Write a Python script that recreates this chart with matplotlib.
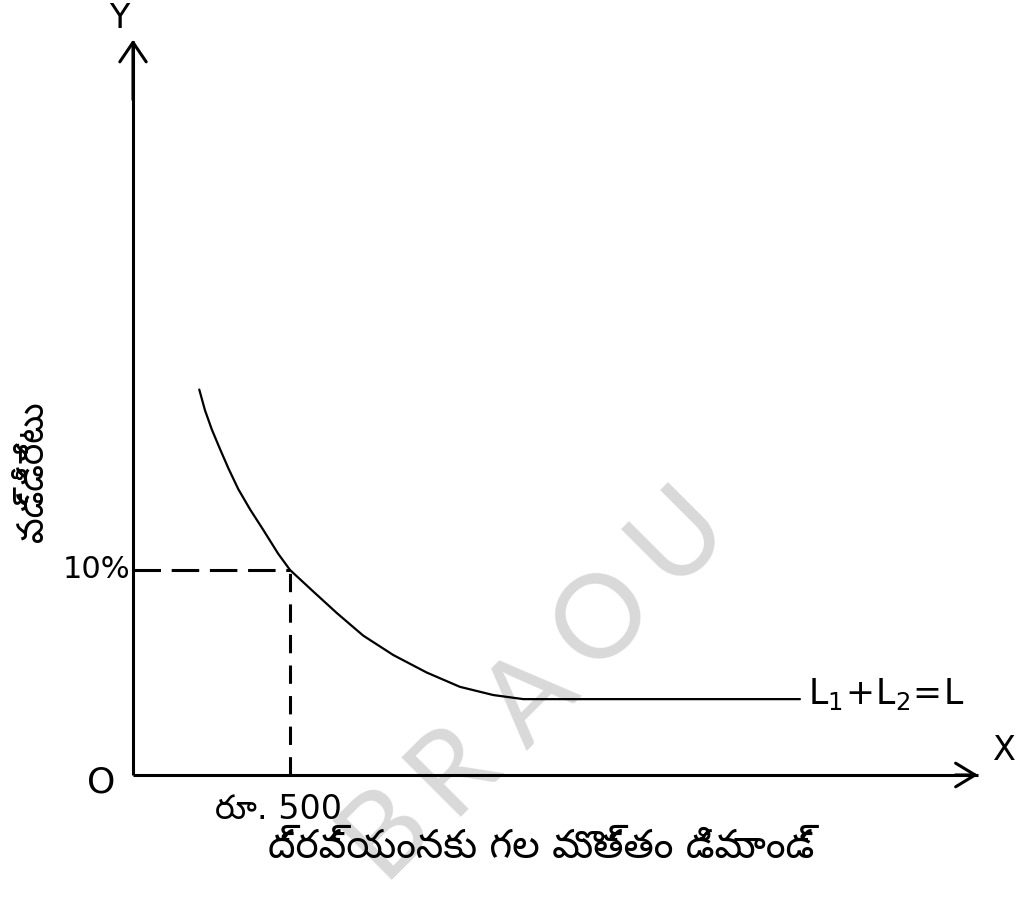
import matplotlib
matplotlib.use("Agg")
import matplotlib.pyplot as plt
from matplotlib import font_manager

# Liquidity preference curve: total demand for money (Rs) vs interest rate (%)
demand_rs = [211, 229, 251, 277, 304, 335, 373, 415, 462, 500, 574, 649, 733,
             829, 935, 1041, 1147, 1243, 1500, 1800, 2124]
interest_pct = [18.8, 17.8, 16.85, 15.9, 14.95, 13.95, 12.95, 11.95, 10.8,
                10.0, 8.95, 7.9, 6.8, 5.85, 5.0, 4.3, 3.9, 3.7, 3.7, 3.7, 3.7]

ref_demand = 500      # Rs. 500
ref_rate = 10.0       # 10%

x_label = "ద్రవ్యంనకు గల మొత్తం డిమాండ్"
y_label = "వడ్డీరేటు"
ref_demand_label = "రూ. 500"
ref_rate_label = "10%"
curve_label = r"$\mathregular{L_1\!+\!L_2\!=\!L}$"
watermark = ["B", "R", "A", "O", "U"]

installed = {f.name for f in font_manager.fontManager.ttflist}
telugu = next((n for n in ["Noto Sans Telugu", "Mandali", "Hind Guntur",
                           "Ramaraja", "Gidugu"] if n in installed), None)
tfam = ["DejaVu Sans", telugu] if telugu else ["DejaVu Sans"]

fig = plt.figure(figsize=(10.2, 8.98), dpi=100)
ax = fig.add_axes([0, 0, 1, 1])
ax.set_xlim(-423.6, 2824.8)
ax.set_ylim(-6.0, 37.8)
ax.axis("off")

# faint diagonal watermark behind everything
wm_pos = [(385, 830), (453, 768), (532, 700), (603, 618), (678, 535)]
for ch, (px, py) in zip(watermark, wm_pos):
    ax.text(px / 1020, 1 - py / 898, ch, transform=ax.transAxes,
            fontsize=84, color="#d9d9d9", rotation=45, ha="center",
            va="center", family=["Lato", "DejaVu Sans"], zorder=0)

# axes drawn as arrows from the origin
x_end, y_end = 2690, 35.8
ax.plot([0, x_end], [0, 0], color="black", lw=2.2, solid_capstyle="butt",
        zorder=3)
ax.plot([0, 0], [0, y_end], color="black", lw=2.2, solid_capstyle="butt",
        zorder=3)
ax.annotate("", xy=(x_end + 10, 0), xytext=(x_end - 80, 0), zorder=3,
            arrowprops=dict(arrowstyle="->,head_length=1.4,head_width=0.85",
                            lw=2.2, color="black"))
ax.annotate("", xy=(0, y_end + 0.2), xytext=(0, y_end - 3), zorder=3,
            arrowprops=dict(arrowstyle="->,head_length=1.4,head_width=0.95",
                            lw=2.2, color="black"))

ax.text(x_end + 50, 1.2, "X", fontsize=24, ha="left", va="center", zorder=3)
ax.text(-45, 36.9, "Y", fontsize=24, ha="center", va="center", zorder=3)
ax.text(-100, -0.35, "O", fontsize=26, ha="center", va="center", zorder=3)

# curve
ax.plot(demand_rs, interest_pct, color="black", lw=1.6, zorder=3,
        solid_capstyle="round", solid_joinstyle="round")
ax.text(2150, 3.95, curve_label, fontsize=25, ha="left", va="center",
        zorder=3)

# reference guides at Rs. 500 / 10%
ax.plot([0, ref_demand], [ref_rate, ref_rate], color="black", lw=2.2,
        dashes=(9, 3.5), zorder=3)
ax.plot([ref_demand, ref_demand], [0, ref_rate], color="black", lw=2.2,
        dashes=(6, 4), zorder=3)

ax.text(-10, ref_rate, ref_rate_label, fontsize=22, ha="right", va="center",
        zorder=3)
ax.text(462, -0.9, ref_demand_label, fontsize=24, ha="center", va="top",
        family=tfam, zorder=3)
ax.text(1300, -2.6, x_label, fontsize=28, ha="center", va="top",
        family=tfam, zorder=3)
ax.text(-320, 14.8, y_label, fontsize=26, ha="center", va="center",
        rotation=90, family=tfam, zorder=3)

fig.savefig("out.png", dpi=100, facecolor="white")
